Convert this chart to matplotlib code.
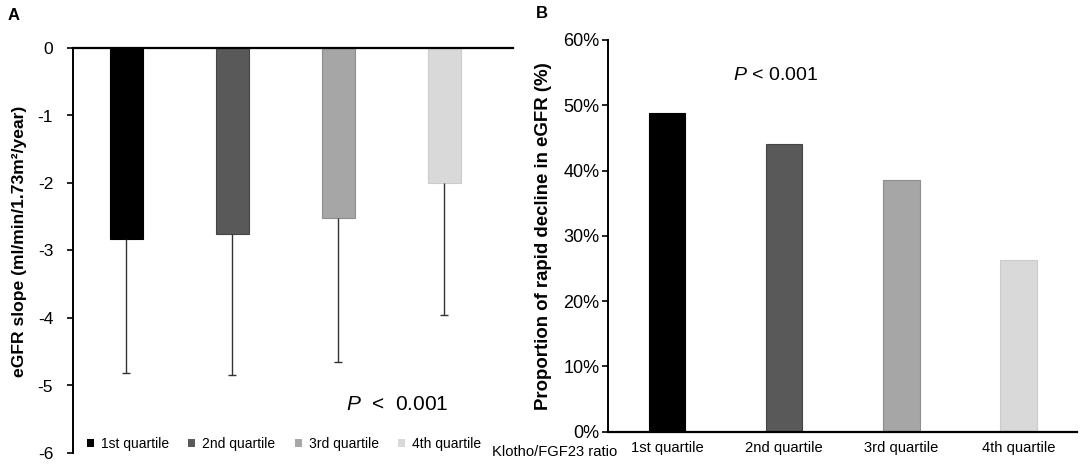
import numpy as np
import matplotlib
matplotlib.use("Agg")
import matplotlib.pyplot as plt
from matplotlib import font_manager
from matplotlib.patches import Patch

plt.rcParams['font.family'] = ['Liberation Sans', 'DejaVu Sans']
plt.rcParams['mathtext.fontset'] = 'custom'
plt.rcParams['mathtext.rm'] = 'Liberation Sans'
plt.rcParams['mathtext.it'] = 'Liberation Sans:italic'
plt.rcParams['axes.unicode_minus'] = False

# data
quartiles = ["1st quartile", "2nd quartile", "3rd quartile", "4th quartile"]
slope_mean = [-2.83, -2.75, -2.52, -2.00]
slope_sd = [1.98, 2.09, 2.13, 1.95]
rapid_pct = [48.8, 44.1, 38.5, 26.3]
pct_ticks = [0, 10, 20, 30, 40, 50, 60]
slope_ticks = [-6, -5, -4, -3, -2, -1, 0]

colors = ["#000000", "#595959", "#a6a6a6", "#d9d9d9"]
edges = ["#000000", "#454545", "#8e8e8e", "#cccccc"]

# narrow font for panel B if it is there
names = {f.name for f in font_manager.fontManager.ttflist}
if 'Liberation Sans Narrow' in names:
    narrow, nfs = 'Liberation Sans Narrow', 12.4
else:
    narrow, nfs = 'Liberation Sans', 10.6

W, H = 1084, 469
fig = plt.figure(figsize=(W/100, H/100), dpi=100)

def box(x0, x1, ytop, ybot):
    return [x0/W, 1-ybot/H, (x1-x0)/W, (ybot-ytop)/H]

# =========================
# (A) eGFR slope
# =========================
ax = fig.add_axes(box(73.3, 513, 48, 453))
x = np.arange(4) + 0.5
ax.bar(x, slope_mean, width=0.31, color=colors, edgecolor=edges,
       linewidth=0.8, zorder=2)
eb = ax.errorbar(x, slope_mean, yerr=[slope_sd, np.zeros(4)], fmt='none',
                 ecolor='#333333', elinewidth=1.0, capsize=3, capthick=1.0,
                 zorder=3)
for cl in eb[1]:
    if np.allclose(cl.get_ydata(), slope_mean):
        cl.set_visible(False)

ax.set_xlim(0, 4.15)
ax.set_ylim(-6, 0)
ax.spines['right'].set_visible(False)
ax.spines['bottom'].set_visible(False)
ax.spines['top'].set_linewidth(1.6)
ax.spines['left'].set_linewidth(1.4)
ax.set_xticks([])
ax.set_yticks(slope_ticks)
ax.tick_params(axis='y', direction='out', length=4.5, width=1.2,
               labelsize=12.5, pad=10)

handles = [Patch(facecolor=c, edgecolor='none') for c in colors]
ax.legend(handles, quartiles, loc='center left', ncol=4, frameon=False,
          bbox_to_anchor=(87/W, 1-444/H), bbox_transform=fig.transFigure,
          fontsize=10, handlelength=0.5, handleheight=0.5,
          handletextpad=0.5, columnspacing=1.4, borderpad=0, borderaxespad=0)

fig.text(397/W, 1-404/H, r"$\mathit{P}$  <  0.001", fontsize=15,
         ha='center', va='center')

fig.text(20/W, 1-241/H, "eGFR slope (ml/min/1.73m²/year)", rotation=90,
         fontsize=12.6, fontweight='bold', ha='center', va='center')
fig.text(8/W, 1-15/H, "A", fontsize=12, fontweight='bold', va='center')

# =========================
# (B) proportion rapid decline
# =========================
ax = fig.add_axes(box(608.3, 1077, 40, 431.7))
ax.bar(x, rapid_pct, width=0.313, color=colors, edgecolor=edges,
       linewidth=0.8, zorder=2)
ax.set_xlim(0, 4)
ax.set_ylim(0, 60)
ax.spines['right'].set_visible(False)
ax.spines['top'].set_visible(False)
ax.spines['left'].set_linewidth(1.4)
ax.spines['bottom'].set_linewidth(1.6)
ax.set_yticks(pct_ticks)
ax.set_yticklabels([f"{t}%" for t in pct_ticks])
ax.tick_params(axis='y', direction='out', length=4.5, width=1.2,
               labelsize=13, pad=2)
ax.set_xticks(x)
ax.set_xticklabels(quartiles, fontfamily=narrow, fontsize=nfs)
ax.tick_params(axis='x', length=0, pad=7)

fig.text(617/W, 1-452/H, "Klotho/FGF23 ratio", fontfamily=narrow,
         fontsize=nfs, ha='right', va='center')
fig.text(733/W, 1-76/H, r"$\mathit{P}$ < 0.001", fontfamily=narrow,
         fontsize=14, ha='left', va='center')

fig.text(544/W, 1-236/H, "Proportion of rapid decline in eGFR (%)",
         rotation=90, fontsize=13.4, fontweight='bold', ha='center', va='center')
fig.text(536/W, 1-14/H, "B", fontsize=12, fontweight='bold', va='center')

fig.savefig("out.png", dpi=100)
